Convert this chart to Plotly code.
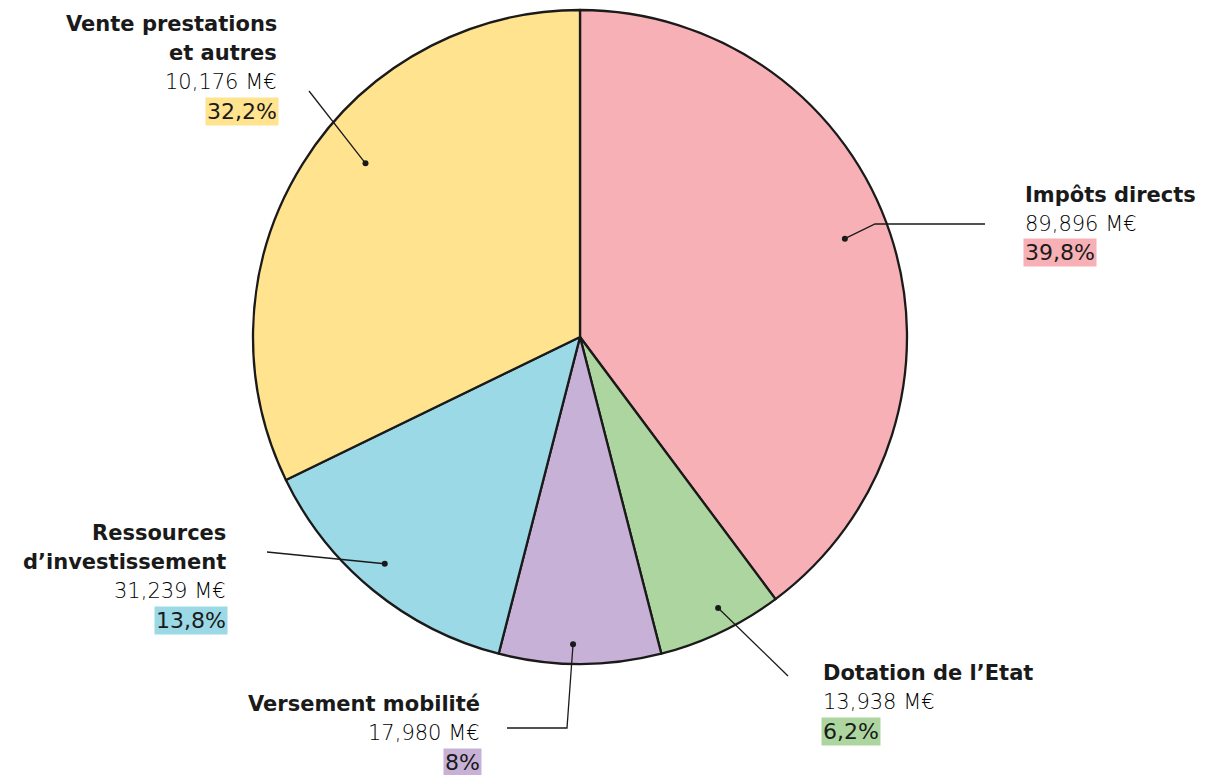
import math
import plotly.graph_objects as go

# ---- data ----
categories = ["Impôts directs", "Dotation de l’Etat", "Versement mobilité",
              "Ressources d’investissement", "Vente prestations et autres"]
title_lines = [["Impôts directs"], ["Dotation de l’Etat"], ["Versement mobilité"],
               ["Ressources", "d’investissement"], ["Vente prestations", "et autres"]]
amounts = ["89,896 M€", "13,938 M€", "17,980 M€", "31,239 M€", "10,176 M€"]
shares = [39.8, 6.2, 8, 13.8, 32.2]
pct_labels = ["39,8%", "6,2%", "8%", "13,8%", "32,2%"]
colors = ["#F7B0B5", "#ADD5A0", "#C8B1D6", "#9BD9E6", "#FFE38F"]

# ---- layout geometry (page pixels; the page body has an 8px margin) ----
OFF = 8
W, H = 1207 - OFF, 775 - OFF
CX, CY, R = 580, 337, 327
FONT = "DejaVu Sans"
INK = "#1a1a1a"

# per-slice label layout: (angle fraction within slice, radius fraction, leader path, text x, anchor, first line y)
label_layout = [
    (0.486, 0.864, [(875, 224), (985, 224)], 1023, "left", 195),
    (0.435, 0.93, [(788, 676)], 821, "left", 673),
    (0.545, 0.94, [(567, 728), (507, 728)], 482, "right", 704),
    (0.53, 0.915, [(267, 552)], 228, "right", 533),
    (0.56, 0.844, [(309, 91)], 279, "right", 24),
]
LINE_H = 29


def px(x):
    return (x - OFF) / W


def py(y):
    return 1 - (y - OFF) / H


fig = go.Figure(go.Pie(
    labels=categories, values=shares, sort=False, direction="clockwise", rotation=0,
    marker=dict(colors=colors, line=dict(color=INK, width=2.3)),
    textinfo="none", hoverinfo="skip", showlegend=False,
    domain=dict(x=[px(CX - R), px(CX + R)], y=[py(CY + R), py(CY - R)]),
))

shapes = []
annotations = []
total = sum(shares)
cum = 0.0
for i, v in enumerate(shares):
    a0 = cum / total * 360
    a1 = (cum + v) / total * 360
    cum += v
    frac, rf, path, tx, anchor, ty = label_layout[i]
    ang = math.radians(a0 + frac * (a1 - a0))
    dx = CX + rf * R * math.sin(ang)
    dy = CY - rf * R * math.cos(ang)
    pts = [(dx, dy)] + path
    d = "M " + " L ".join(f"{px(x):.5f},{py(y):.5f}" for x, y in pts)
    shapes.append(dict(type="path", path=d, xref="paper", yref="paper",
                       line=dict(color=INK, width=1.3)))
    rr = 3
    shapes.append(dict(type="circle", xref="paper", yref="paper",
                       x0=px(dx - rr), x1=px(dx + rr), y0=py(dy + rr), y1=py(dy - rr),
                       fillcolor=INK, line=dict(width=0)))
    y = ty
    for t in title_lines[i]:
        annotations.append(dict(x=px(tx), y=py(y), xref="paper", yref="paper", text=t,
                                showarrow=False, xanchor=anchor, yanchor="middle",
                                font=dict(family=FONT, size=21, color=INK, weight=700)))
        y += LINE_H
    annotations.append(dict(x=px(tx), y=py(y), xref="paper", yref="paper", text=amounts[i],
                            showarrow=False, xanchor=anchor, yanchor="middle",
                            font=dict(family=FONT, size=21, color="#000000", weight=300)))
    y += LINE_H
    annotations.append(dict(x=px(tx), y=py(y), xref="paper", yref="paper", text=pct_labels[i],
                            showarrow=False, xanchor=anchor, yanchor="middle",
                            bgcolor=colors[i], borderpad=1,
                            font=dict(family=FONT, size=22, color=INK, weight=500)))

fig.update_layout(
    width=W, height=H, margin=dict(l=0, r=0, t=0, b=0),
    paper_bgcolor="white", plot_bgcolor="white",
    shapes=shapes, annotations=annotations,
)

fig.write_html("out.html")
